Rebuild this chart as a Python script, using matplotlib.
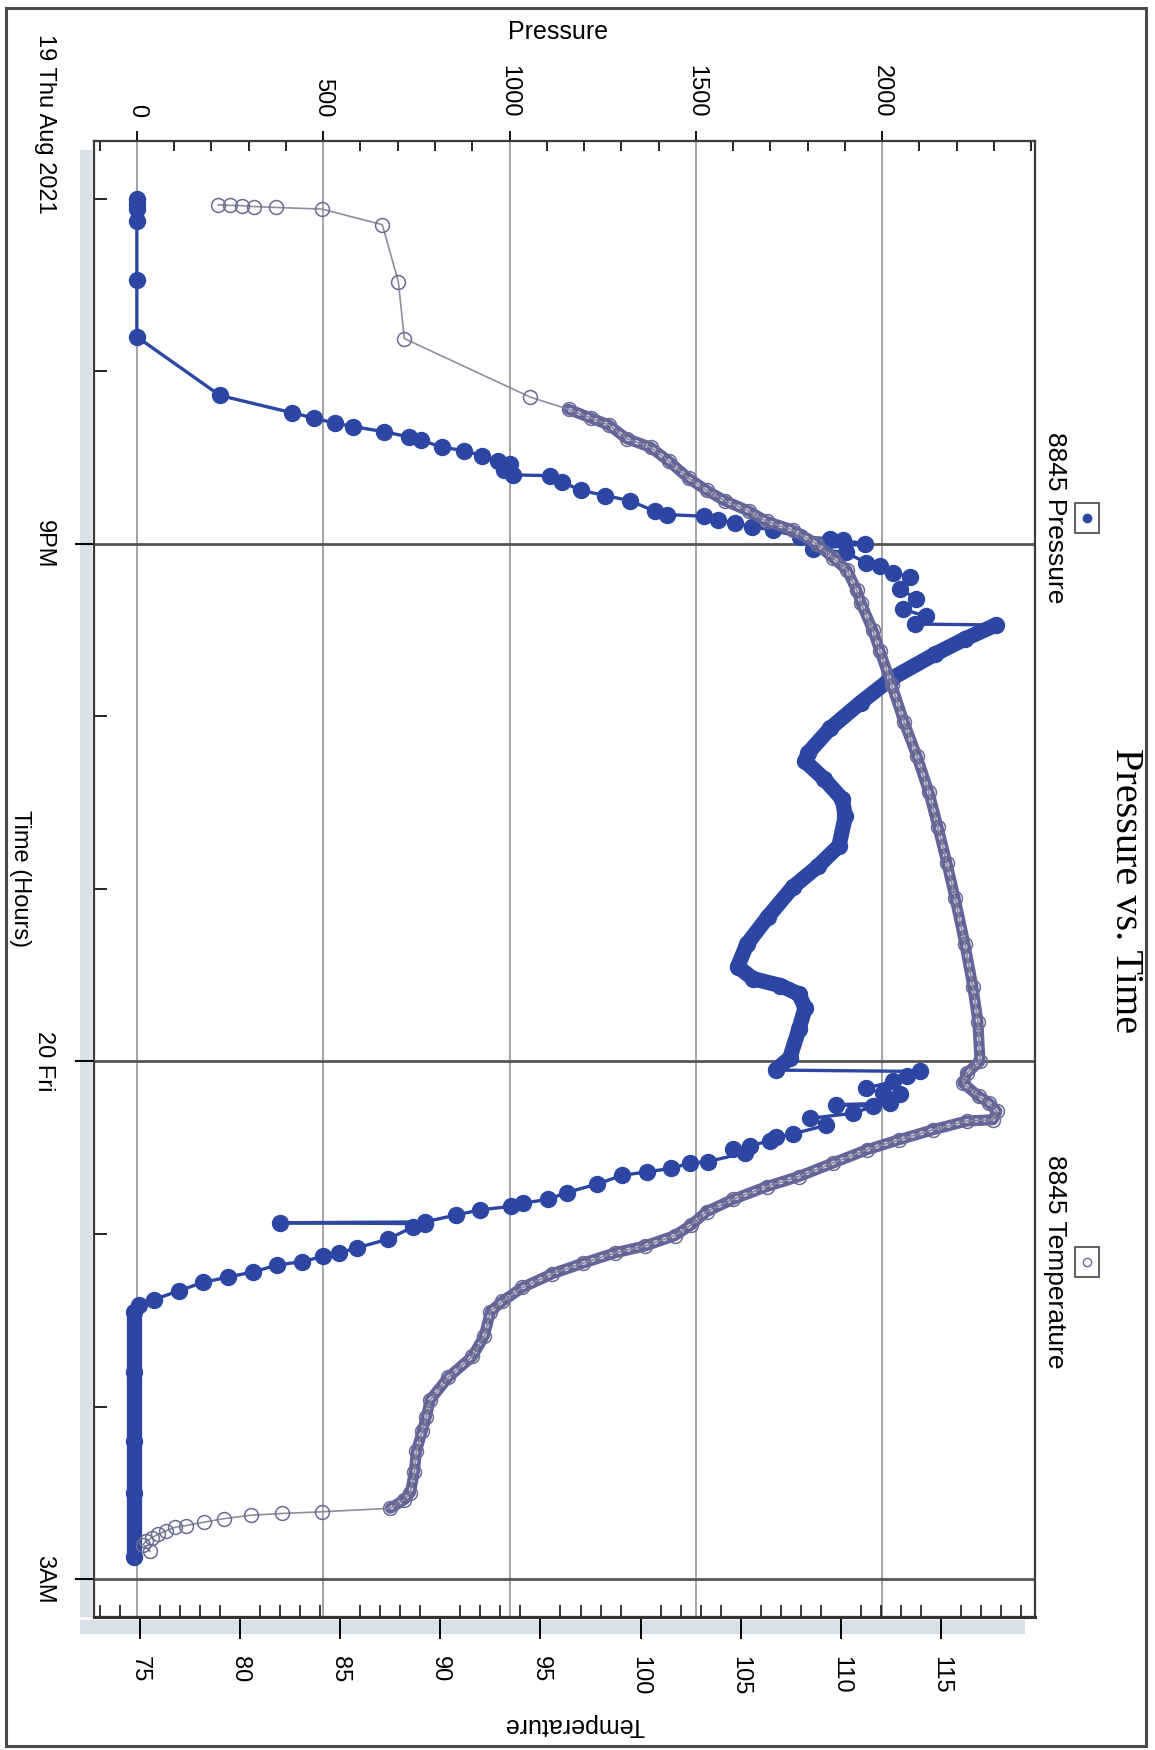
import numpy as np
import matplotlib
matplotlib.use('Agg')
import matplotlib.pyplot as plt
from matplotlib.patches import Rectangle
from matplotlib.lines import Line2D
from matplotlib.ticker import MultipleLocator

plt.rcParams['font.family'] = ['Liberation Sans', 'DejaVu Sans']

# ---- data (time in hours from 19 Aug 00:00) ----
press_hour = [19.00, 19.03, 19.06, 19.13, 19.47, 19.80,
              20.14, 20.24, 20.27, 20.30, 20.32, 20.35, 20.38, 20.40, 20.44, 20.46, 20.49, 20.52, 20.54, 20.57, 20.60,
              20.605, 20.64, 20.69, 20.72, 20.75, 20.81, 20.83, 20.84, 20.86, 20.88, 20.90,
              20.92, 20.96, 20.97, 20.98, 21.00, 21.03, 21.05, 21.11, 21.13, 21.17, 21.19, 21.26, 21.32, 21.38, 21.42, 21.465,
              21.47, 21.55, 21.64, 21.78, 21.92, 22.07, 22.21, 22.26, 22.36, 22.48, 22.58, 22.75, 22.87, 22.99, 23.16, 23.32,
              23.45, 23.52, 23.56, 23.61, 23.69, 23.81, 23.98, 24.05,
              24.058, 24.087, 24.116, 24.155, 24.184, 24.19, 24.241, 24.251, 24.26, 24.30, 24.33, 24.37, 24.42, 24.44, 24.46,
              24.49, 24.51, 24.53, 24.58, 24.59, 24.62, 24.64, 24.66, 24.71, 24.76, 24.80, 24.82, 24.84, 24.86, 24.89, 24.93,
              24.935, 24.94, 24.96,
              25.03, 25.08, 25.11, 25.13, 25.16, 25.18, 25.22, 25.25, 25.28, 25.33, 25.38, 25.41, 25.45, 25.80, 26.20, 26.50, 26.87]
press_psi = [0, 0, 0, 0, 0, 0,
             223, 416, 474, 531, 581, 663, 729, 762, 820, 878, 927, 969, 1000, 985, 1010,
             1109, 1140, 1191, 1257, 1323, 1389, 1422, 1521, 1560, 1604, 1650,
             1706, 1779, 1860, 1895, 1954, 1814, 1903, 1957, 1995, 2030, 2075, 2048, 2092, 2057, 2118, 2089,
             2305, 2223, 2141, 2025, 1942, 1860, 1802, 1793, 1843, 1893, 1901, 1884, 1827, 1760, 1694, 1637,
             1612, 1653, 1727, 1777, 1793, 1777, 1752, 1714,
             2102, 2066, 2030, 1957, 2003, 2048, 2021, 1876, 1976, 1922, 1806, 1850, 1760, 1714, 1698,
             1644, 1599, 1632, 1533, 1483, 1434, 1368, 1302, 1236, 1153, 1104, 1037, 1004, 922, 856, 773,
             385, 773, 740,
             674, 591, 542, 500, 443, 377, 311, 245, 178, 112, 46, 5, -9, -9, -9, -9, -9]

temp_hour = [19.035, 19.038, 19.04, 19.045, 19.05, 19.06, 19.15, 19.48, 19.81, 20.15,
             20.22, 20.27, 20.31, 20.39, 20.44, 20.52, 20.62, 20.69, 20.75, 20.81, 20.87, 20.92, 21.00, 21.08, 21.15, 21.27, 21.34,
             21.50, 21.62, 21.82, 22.03, 22.23, 22.44, 22.64, 22.85, 23.05, 23.32, 23.57, 23.77, 24.00,
             24.067, 24.125, 24.203, 24.241, 24.29, 24.338, 24.345, 24.396, 24.454, 24.512, 24.589, 24.667, 24.725, 24.80,
             24.87, 24.95, 25.01, 25.07, 25.11, 25.17, 25.23, 25.31, 25.39, 25.45, 25.59, 25.71, 25.83, 25.96, 26.06,
             26.14, 26.26, 26.38, 26.50, 26.54, 26.59,
             26.61, 26.62, 26.63, 26.65, 26.67, 26.69, 26.70, 26.72, 26.74, 26.76, 26.78, 26.80, 26.84]
temp_degf = [78.9, 79.5, 80.1, 80.7, 81.8, 84.1, 87.1, 87.9, 88.2, 94.5,
             96.4, 97.5, 98.4, 99.3, 100.5, 101.4, 102.4, 103.3, 104.2, 105.4, 106.3, 107.6, 108.8, 109.6, 110.3, 110.8, 111.0,
             111.6, 111.95, 112.55, 113.15, 113.8, 114.4, 114.85, 115.3, 115.7, 116.2, 116.6, 116.85, 116.95,
             116.3, 116.1, 116.9, 117.4, 117.8, 117.6, 116.3, 114.6, 112.9, 111.3, 109.6, 107.9, 106.3, 104.6,
             103.3, 102.5, 101.7, 100.2, 98.7, 97.1, 95.6, 94.1, 93.1, 92.5, 92.2, 91.6, 90.4, 89.5, 89.3,
             89.1, 88.8, 88.7, 88.5, 88.2, 87.5,
             84.1, 82.1, 80.55, 79.2, 78.2, 77.3, 76.75, 76.3, 75.9, 75.6, 75.3, 75.15, 75.5]

# stretches where the logger recorded so often that the markers merge into a band
press_dense = [(21.468, 24.055), (25.44, 26.90)]
temp_dense = [(20.20, 26.595)]

time_ticks = [21, 24, 27]
time_labels = ['9PM', '20 Fri', '3AM']
press_ticks = [0, 500, 1000, 1500, 2000]
temp_ticks = [75, 80, 85, 90, 95, 100, 105, 110, 115]

BLUE = '#2c46a3'
TEMP_EDGE = '#6a6a94'

W, H = 1155, 1750
fig = plt.figure(figsize=(W / 100, H / 100), dpi=100)
ax = fig.add_axes([94 / W, 1 - 1617 / H, 941 / W, 1476 / H])
ax2 = ax.twiny()

ax.set_xlim(-115, 2410)
ax.set_ylim(27.22, 18.665)
ax2.set_xlim(72.7, 119.7)

# pressure axis on top
ax.xaxis.tick_top()
ax.xaxis.set_label_position('top')
ax.set_xticks(press_ticks)
ax.xaxis.set_minor_locator(MultipleLocator(100))
ax.tick_params(axis='x', which='major', direction='out', length=7, width=1.3,
               pad=10, labelsize=17, labelrotation=-90)
ax.tick_params(axis='x', which='minor', direction='in', length=7, width=1.2)

# time axis on the left
ax.set_yticks(time_ticks, labels=time_labels)
ax.yaxis.set_minor_locator(MultipleLocator(1))
ax.tick_params(axis='y', which='major', direction='out', length=14, width=1.5,
               pad=14, labelsize=17, labelrotation=-90)
ax.tick_params(axis='y', which='minor', direction='in', length=9, width=1.2)
for lab in ax.get_yticklabels():
    lab.set_va('center')

# temperature axis on the bottom
ax2.xaxis.set_ticks_position('bottom')
ax2.xaxis.set_label_position('bottom')
ax2.set_xticks(temp_ticks)
ax2.xaxis.set_minor_locator(MultipleLocator(1))
ax2.tick_params(axis='x', which='major', direction='out', length=16, width=1.4,
                pad=12, labelsize=17, labelrotation=-90)
ax2.tick_params(axis='x', which='minor', direction='in', length=9, width=1.1)

ax.xaxis.grid(True, which='major', color='#8c8c8c', lw=1.1)
ax.yaxis.grid(True, which='major', color='#555555', lw=2.0)
ax.set_axisbelow(True)

for s in ax.spines.values():
    s.set_color('#3a3a3a')
    s.set_linewidth(1.6)
for name, s in ax2.spines.items():
    if name == 'bottom':
        s.set_color('#333333')
        s.set_linewidth(2.2)
    else:
        s.set_visible(False)

# ---- pressure ----
ph = np.array(press_hour)
pp = np.array(press_psi)
ax.plot(pp, ph, color=BLUE, lw=2.4, marker='o', ms=11.5, mfc=BLUE, mec=BLUE, zorder=3)
for a, b in press_dense:
    m = (ph >= a) & (ph <= b)
    ax.plot(pp[m], ph[m], color=BLUE, lw=11, solid_capstyle='round',
            solid_joinstyle='round', zorder=3)

# ---- temperature ----
th = np.array(temp_hour)
tt = np.array(temp_degf)
for a, b in temp_dense:
    m = (th >= a) & (th <= b)
    ax2.plot(tt[m], th[m], color='#62649a', lw=8, solid_capstyle='round',
             solid_joinstyle='round', zorder=3)
    ax2.plot(tt[m], th[m], color='#d4d5e6', lw=2.8, ls=(0, (1, 1.4)), zorder=3.5)
ax2.plot(tt, th, color='#8d8d9c', lw=1.2, marker='o', ms=10, mfc='none',
         mec=TEMP_EDGE, mew=1.1, zorder=4)

# ---- axis labels and titles ----
ax.set_ylabel('Time (Hours)', rotation=-90, fontsize=17, va='center', ha='center')
ax.yaxis.set_label_coords((20 - 94) / 941, 0.5)
ax.set_xlabel('Pressure', fontsize=18, va='center')
ax.xaxis.set_label_coords(0.493, 1 + (141 - 32) / 1476)
ax2.set_xlabel('Temperature', rotation=180, fontsize=18, va='center', ha='center')
ax2.xaxis.set_label_coords(0.511, -(1725 - 1617) / 1476)

fig.text(45 / W, 1 - 34 / H, '19 Thu Aug 2021', rotation=-90, ha='center', va='top', fontsize=17)
fig.text(1126 / W, 1 - 891 / H, 'Pressure vs. Time', rotation=-90, ha='center', va='center',
         fontsize=29, family=['Liberation Serif', 'DejaVu Serif'])

# legend, laid out the way the rotated page shows it
narrow = ['Liberation Sans Narrow', 'Liberation Sans', 'DejaVu Sans']
for label, yc, face in [('8845 Pressure', 518, BLUE), ('8845 Temperature', 1262, 'none')]:
    fig.text(1055 / W, 1 - yc / H, label, rotation=-90, ha='center', va='center',
             fontsize=19, family=narrow)
    fig.add_artist(Rectangle(((1087 - 12) / W, 1 - (yc + 15) / H), 24 / W, 30 / H,
                             transform=fig.transFigure, fill=False, ec='#555555', lw=1.3))
    edge = BLUE if face != 'none' else TEMP_EDGE
    fig.add_artist(Line2D([1087 / W], [1 - yc / H], transform=fig.transFigure, marker='o',
                          ms=6, mfc=face, mec=edge, mew=1.0, ls='none'))

# light shading along the axes and page border from the printout
fig.add_artist(Rectangle((80 / W, 1 - 1617 / H), 12 / W, (1617 - 150) / H,
                         transform=fig.transFigure, fc='#d8e0ea', ec='none', zorder=0))
fig.add_artist(Rectangle((80 / W, 1 - 1634 / H), (1025 - 80) / W, 14 / H,
                         transform=fig.transFigure, fc='#d8e0ea', ec='none', zorder=0))
fig.add_artist(Rectangle((6 / W, 1 - 1746 / H), (1146 - 6) / W, (1746 - 8) / H,
                         transform=fig.transFigure, fill=False, ec='#4a4a4a', lw=2.2))

fig.savefig('out.png', dpi=100)
